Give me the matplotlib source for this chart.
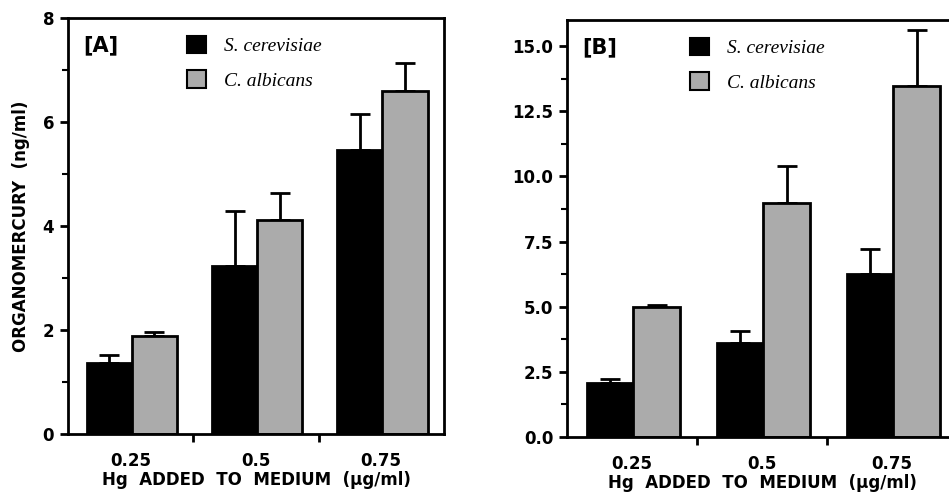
import matplotlib.pyplot as plt
from matplotlib.patches import Patch
from matplotlib.ticker import MultipleLocator

# Data
doses = ['0.25', '0.5', '0.75']
species = ['S. cerevisiae', 'C. albicans']

a_sc = [1.37, 3.23, 5.46]
a_sc_err = [0.15, 1.06, 0.69]
a_ca = [1.89, 4.12, 6.60]
a_ca_err = [0.07, 0.51, 0.53]

b_sc = [2.08, 3.62, 6.27]
b_sc_err = [0.14, 0.46, 0.96]
b_ca = [4.97, 8.96, 13.45]
b_ca_err = [0.11, 1.44, 2.15]

plt.rcParams['font.family'] = 'DejaVu Sans'
plt.rcParams['font.weight'] = 'bold'

fig = plt.figure(figsize=(9.49, 5.0), dpi=100)
ax_a = fig.add_axes([0.0717, 0.132, 0.396, 0.832])
ax_b = fig.add_axes([0.5975, 0.126, 0.411, 0.834])

width = 0.36
gray = '#ababab'


def draw_panel(ax, sc, sc_err, ca, ca_err, ymax, major, minor, label):
    x = range(len(doses))
    x1 = [i + 0.15 + width / 2 for i in x]
    x2 = [i + 0.15 + 1.5 * width for i in x]
    ax.bar(x1, sc, width, color='black', edgecolor='black', linewidth=2, zorder=2)
    ax.bar(x2, ca, width, color=gray, edgecolor='black', linewidth=2, zorder=2)
    ax.errorbar(x1, sc, yerr=[[0] * 3, sc_err], fmt='none', ecolor='black',
                elinewidth=2, capsize=7.5, capthick=2, zorder=1)
    ax.errorbar(x2, ca, yerr=[[0] * 3, ca_err], fmt='none', ecolor='black',
                elinewidth=2, capsize=7.5, capthick=2, zorder=1)

    ax.set_xlim(0, 3)
    ax.set_ylim(0, ymax)
    ax.set_xticks([1, 2])
    ax.set_xticklabels([])
    ax.set_xticks([i + 0.5 for i in x], doses, minor=True)
    ax.tick_params(axis='x', which='minor', length=0, pad=13, labelsize=12)
    ax.tick_params(axis='x', which='major', length=6, width=2)
    ax.yaxis.set_major_locator(MultipleLocator(major))
    ax.yaxis.set_minor_locator(MultipleLocator(minor))
    ax.tick_params(axis='y', which='major', length=6, width=2, labelsize=12, pad=4)
    ax.tick_params(axis='y', which='minor', length=4, width=1.5)
    for s in ax.spines.values():
        s.set_linewidth(2)

    ax.set_xlabel('Hg  ADDED  TO  MEDIUM  (\u03bcg/ml)', fontsize=12,
                  fontweight='bold', labelpad=1)
    ax.text(0.04, 0.935, label, transform=ax.transAxes, fontsize=15,
            fontweight='bold', va='center')

    handles = [Patch(facecolor='black', edgecolor='black', linewidth=1.5),
               Patch(facecolor=gray, edgecolor='black', linewidth=1.5)]
    ax.legend(handles, species, loc='upper left', bbox_to_anchor=(0.27, 1.0),
              frameon=False, handlelength=1.0, handleheight=1.0,
              handletextpad=0.9, labelspacing=0.8,
              prop={'family': 'Liberation Serif', 'style': 'italic',
                    'weight': 'normal', 'size': 14})


draw_panel(ax_a, a_sc, a_sc_err, a_ca, a_ca_err, 8, 2, 1, '[A]')
ax_a.set_ylabel('ORGANOMERCURY  (ng/ml)', fontsize=12, fontweight='bold',
                labelpad=9)

draw_panel(ax_b, b_sc, b_sc_err, b_ca, b_ca_err, 16, 2.5, 1.25, '[B]')
ax_b.yaxis.set_major_formatter(plt.FormatStrFormatter('%.1f'))

fig.savefig('out.png', dpi=100)
